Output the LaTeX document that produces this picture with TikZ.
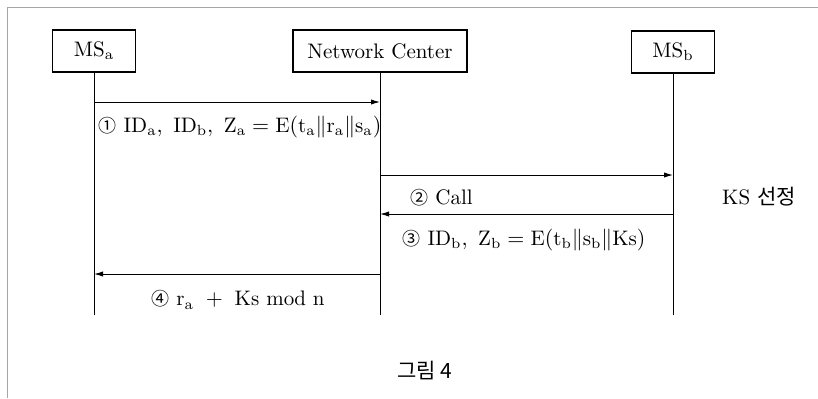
\documentclass[tikz,border=0pt]{standalone}
\usepackage{amsmath,amssymb}
\usepackage{fontspec}
\newfontfamily\krfont{Noto Sans CJK KR}
\usepackage{tikz}
\usetikzlibrary{arrows.meta,calc,positioning}
\newcommand{\circnum}[1]{{\krfont\small #1}}

\begin{document}
\begin{tikzpicture}[x=0.5pt,y=-0.5pt,>={Latex[length=4.5pt,width=2.6pt]},
  font=\fontsize{10.5}{12}\selectfont,
  party/.style={draw,line width=0.6pt,minimum height=21pt,inner sep=0pt},
  life/.style={line width=0.5pt},
  msg/.style={->,line width=0.45pt},
  lbl/.style={inner sep=1pt}]
  \useasboundingbox (0,0) rectangle (818,398);
  \draw[gray!70,line width=0.5pt] (7,398) -- (7,7) -- (818,7);
  \node[party,minimum width=41.5pt] (msa) at (94,51) {MS$_\mathrm{a}$};
  \node[party,minimum width=87pt] (nc) at (380,51) {Network Center};
  \node[party,minimum width=41.5pt] (msb) at (673,52) {MS$_\mathrm{b}$};
  \coordinate (bot) at (0,315);
  \foreach \p in {msa,nc,msb} {\draw[life] (\p.south) -- (\p |- bot);}
  \foreach \k/\y in {1/102,2/175,3/214,4/274} {
    \coordinate (a\k) at (msa |- 0,\y);
    \coordinate (n\k) at (nc |- 0,\y);
    \coordinate (b\k) at (msb |- 0,\y);
  }
  \draw[msg] (a1) -- (n1);
  \draw[msg] (n2) -- (b2);
  \draw[msg] (b3) -- (n3);
  \draw[msg] (n4) -- (a4);
  \node[lbl] (m1) at (240,127) {\circnum{①} $\mathrm{ID_a,\ ID_b,\ Z_a = E(t_a\|r_a\|s_a)}$};
  \node[lbl,anchor=west] (m2) at (408,198) {\circnum{②} Call};
  \node[lbl] (m3) at (524,240) {\circnum{③} $\mathrm{ID_b,\ Z_b = E(t_b\|s_b\|Ks)}$};
  \node[lbl] (m4) at (238,300) {\circnum{④} $\mathrm{r_a\ +\ Ks\ mod\ n}$};
  \node[lbl] (ks) at (759,197) {KS {\krfont 선정}};
  \node[lbl] (cap) at (425,371) {\krfont 그림 4};
\end{tikzpicture}
\end{document}
